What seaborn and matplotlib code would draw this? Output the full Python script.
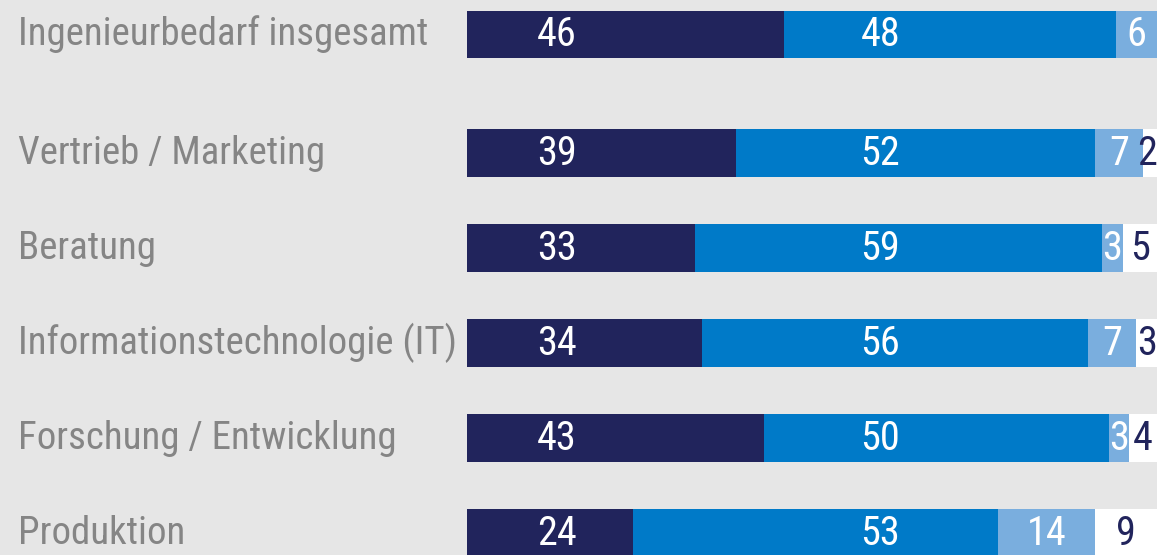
import numpy as np
import pandas as pd
import matplotlib
matplotlib.use("Agg")
import matplotlib.pyplot as plt
import matplotlib.transforms as mtransforms
from matplotlib import font_manager
import seaborn as sns

categories = ["Ingenieurbedarf insgesamt", "Vertrieb / Marketing", "Beratung",
              "Informationstechnologie (IT)", "Forschung / Entwicklung", "Produktion"]
seg1 = [46, 39, 33, 34, 43, 24]
seg2 = [48, 52, 59, 56, 50, 53]
seg3 = [6, 7, 3, 7, 3, 14]
seg4 = [0, 2, 5, 3, 4, 9]
row_pos = [0, 1.25, 2.25, 3.25, 4.25, 5.25]

sns.set_theme(style="white")
names = {f.name for f in font_manager.fontManager.ttflist}
fam = None
for cand in ["Liberation Sans Narrow", "Roboto Condensed", "Open Sans Condensed",
             "DejaVu Sans Condensed", "Liberation Sans"]:
    if cand in names:
        fam = cand
        break
plt.rcParams["font.family"] = [fam, "DejaVu Sans"]

BG = "#e6e6e6"
NAVY = "#21245c"
BLUE = "#007ac8"
LIGHT = "#7aaede"
GRAY = "#858585"

df = pd.DataFrame({"cat": categories, "pos": row_pos, "s1": seg1, "s2": seg2,
                   "s3": seg3, "s4": seg4})
df["c1"] = df["s1"]
df["c2"] = df["c1"] + df["s2"]
df["c3"] = df["c2"] + df["s3"]
df["c4"] = df["c3"] + df["s4"]

W, H = 1157, 555
fig = plt.figure(figsize=(W / 100, H / 100), dpi=100)
fig.patch.set_facecolor(BG)
ax = fig.add_axes([467 / W, 0, 1 - 467 / W, 1])
ax.set_facecolor(BG)

for col, color in [("c4", "#ffffff"), ("c3", LIGHT), ("c2", BLUE), ("c1", NAVY)]:
    sns.barplot(data=df, x=col, y="pos", orient="h", native_scale=True,
                color=color, width=0.505, saturation=1, linewidth=0, ax=ax)

ax.set_xlim(0, 100)
ax.set_ylim((H - 34.5) / 95, -34.5 / 95)
ax.axis("off")

fs_num = 29
fs_lab = 28
for i, r in df.iterrows():
    y = r["pos"]
    ax.text(13.0, y, str(r["s1"]), color="white", fontsize=fs_num, ha="center", va="center")
    ax.text(59.9, y, str(r["s2"]), color="white", fontsize=fs_num, ha="center", va="center")
    if r["s3"] > 0:
        ax.text(r["c2"] + r["s3"] / 2, y, str(r["s3"]), color="white", fontsize=fs_num,
                ha="center", va="center")
    if r["s4"] > 0:
        xc = min(r["c3"] + r["s4"] / 2, 98.6)
        ax.text(xc, y, str(r["s4"]), color=NAVY, fontsize=fs_num,
                ha="center", va="center")

tr = mtransforms.blended_transform_factory(fig.transFigure, ax.transData)
for i, r in df.iterrows():
    ax.text(18 / W, r["pos"], r["cat"], color=GRAY, fontsize=fs_lab, ha="left",
            va="center", transform=tr, clip_on=False)

fig.savefig("out.png", dpi=100, facecolor=BG)
